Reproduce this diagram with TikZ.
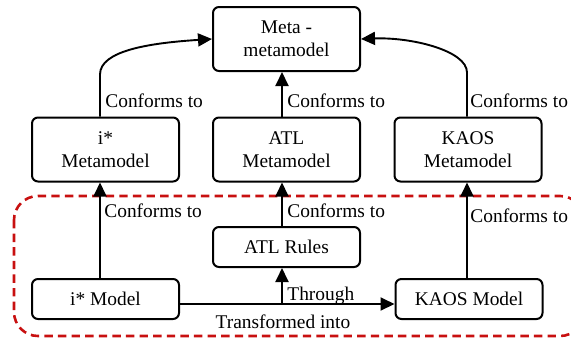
\documentclass[tikz,border=0pt]{standalone}
\usepackage{fontspec}
\setmainfont{Liberation Serif}
\usetikzlibrary{arrows.meta}
\definecolor{groupred}{RGB}{200,16,16}
\begin{document}
\begin{tikzpicture}[x=0.5pt,y=-0.5pt,
  font=\rmfamily\fontsize{9.7}{11.5}\selectfont,
  box/.style={draw,line width=1pt,rounded corners=3pt,align=center,
    minimum width=73.5pt,inner sep=0pt},
  tall/.style={box,minimum height=32pt},
  short/.style={box,minimum height=20pt},
  arr/.style={line width=0.95pt,-{Triangle[length=7pt,width=6.5pt]}},
  lbl/.style={inner sep=0pt,anchor=base west}]
\clip (0,0) rectangle (571,338);

% model group
\draw[groupred,line width=1.3pt,dash pattern=on 4.2pt off 2.6pt,rounded corners=12pt]
  (14,196) rectangle (584,336);

% boxes
\node[tall] (meta) at (286.5,39) {Meta -\\metamodel};
\node[tall] (imm)  at (105.5,149.5) {i*\\Metamodel};
\node[tall] (amm)  at (286.5,149.5) {ATL\\Metamodel};
\node[tall] (kmm)  at (468,149.5) {KAOS\\Metamodel};
\node[short] (rules) at (286.5,247) {ATL Rules};
\node[short] (im)  at (105.5,299) {i* Model};
\node[short] (km)  at (469,299) {KAOS Model};

% metamodels conform to the meta-metamodel
\draw[arr] ([xshift=-2.75pt]imm.north) -- ++(0,-42)
  .. controls +(0,-24) and +(-62,4) .. (meta.west);
\draw[arr] ([xshift=-0.5pt]kmm.north) -- ++(0,-44)
  .. controls +(0,-22) and +(50,-2) .. (meta.east);
\draw[arr] ([xshift=-2.25pt]amm.north) -- ([xshift=-2.25pt]meta.south);

% models conform to their metamodels
\draw[arr] ([xshift=-2.75pt]im.north) -- ([xshift=-2.75pt]imm.south);
\draw[arr] ([xshift=-2.25pt]rules.north) -- ([xshift=-2.25pt]amm.south);
\draw[arr] ([xshift=-1pt]km.north) -- ([xshift=-0.5pt]kmm.south);

% transformation
\coordinate (hl) at ([yshift=-2.5pt]im.east);
\draw[arr] (hl) -- (hl -| km.west);
\coordinate (thr) at ([xshift=-2.25pt]rules.south |- hl);
\draw[arr] (thr) -- ([xshift=-2.25pt]rules.south);

% labels
\node[lbl] (l1) at (105,107) {Conforms to};
\node[lbl] (l2) at (287,107) {Conforms to};
\node[lbl] (l3) at (470,107) {Conforms to};
\node[lbl] (l4) at (104,217) {Conforms to};
\node[lbl] (l5) at (287,217) {Conforms to};
\node[lbl] (l6) at (470,222) {Conforms to};
\node[lbl] (l7) at (287,300) {Through};
\node[inner sep=0pt,anchor=base] (l8) at (283,328) {Transformed into};
\end{tikzpicture}
\end{document}
